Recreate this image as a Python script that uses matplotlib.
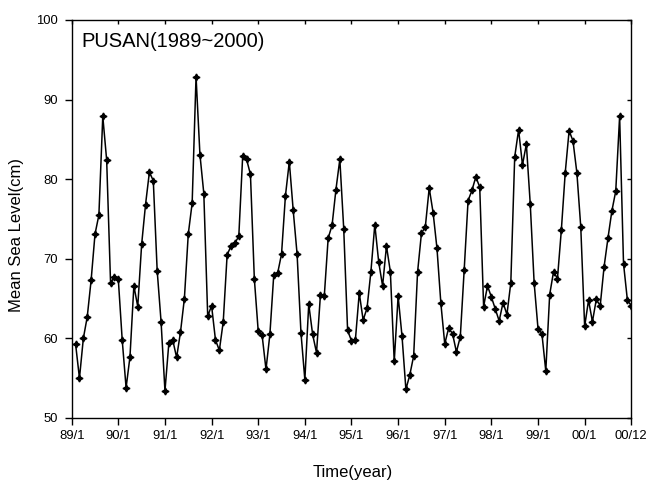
import numpy as np
import matplotlib
matplotlib.use('Agg')
import matplotlib.pyplot as plt

plt.rcParams['font.family'] = ['Liberation Sans', 'DejaVu Sans']

# Monthly mean sea level at Pusan, 1989/1 .. 2000/12 (cm)
sea_level = [
    59.3, 55.0, 60.0, 62.7, 67.3, 73.1, 75.5, 87.9, 82.4, 67.0, 67.7, 67.4,
    59.8, 53.8, 57.7, 66.6, 64.0, 71.8, 76.8, 80.9, 79.8, 68.5, 62.1, 53.4,
    59.4, 59.8, 57.6, 60.8, 65.0, 73.1, 77.0, 92.9, 83.1, 78.2, 62.8, 64.1,
    59.8, 58.5, 62.1, 70.5, 71.6, 72.0, 72.8, 82.9, 82.5, 80.6, 67.5, 60.9,
    60.4, 56.1, 60.5, 68.0, 68.2, 70.6, 77.9, 82.2, 76.1, 70.6, 60.7, 54.8,
    64.3, 60.5, 58.2, 65.4, 65.3, 72.6, 74.2, 78.7, 82.5, 73.8, 61.0, 59.7,
    59.8, 65.7, 62.3, 63.8, 68.4, 74.3, 69.6, 66.6, 71.6, 68.4, 57.1, 65.3,
    60.3, 53.6, 55.4, 57.8, 68.3, 73.2, 74.0, 78.9, 75.8, 71.3, 64.4, 59.3,
    61.3, 60.6, 58.3, 60.2, 68.6, 77.3, 78.6, 80.3, 79.0, 64.0, 66.6, 65.2,
    63.7, 62.2, 64.5, 63.0, 67.0, 82.8, 86.2, 81.8, 84.4, 76.9, 67.0, 61.2,
    60.6, 55.9, 65.5, 68.4, 67.5, 73.6, 80.8, 86.1, 84.8, 80.8, 74.0, 61.5,
    64.8, 62.1, 64.9, 64.1, 69.0, 72.6, 76.0, 78.5, 87.9, 69.4, 64.8, 64.1,
]
tick_labels = ['89/1', '90/1', '91/1', '92/1', '93/1', '94/1', '95/1',
               '96/1', '97/1', '98/1', '99/1', '00/1', '00/12']
title_text = 'PUSAN(1989~2000)'

months = np.arange(1, len(sea_level) + 1)

fig = plt.figure(figsize=(6.65, 4.84), dpi=100)
ax = fig.add_axes([0.1078, 0.1364, 0.8415, 0.8223])

ax.plot(months, sea_level, color='black', linewidth=1.1,
        marker=(4, 1, 0), markersize=5, markerfacecolor='black',
        markeredgecolor='black')

ax.set_xlim(0, 144)
ax.set_ylim(50, 100)
ax.set_xticks(np.arange(0, 145, 12))
ax.set_xticklabels(tick_labels)
ax.set_yticks(np.arange(50, 101, 10))

ax.tick_params(axis='both', direction='out', length=4.8, width=1.0,
               labelsize=9.4, color='black')
ax.tick_params(axis='x', pad=4)
ax.tick_params(axis='y', pad=5)
# small inward marks on the top and right frame
ax.tick_params(top=True, right=True, labeltop=False, labelright=False)
for t in ax.xaxis.get_major_ticks():
    t.tick2line.set_marker(3)
    t.tick2line.set_markersize(3)
for t in ax.yaxis.get_major_ticks():
    t.tick2line.set_marker(0)
    t.tick2line.set_markersize(3)

for s in ax.spines.values():
    s.set_linewidth(1.0)
    s.set_color('black')

ax.set_xlabel('Time(year)', fontsize=12)
ax.set_ylabel('Mean Sea Level(cm)', fontsize=12)
ax.xaxis.set_label_coords(0.503, -0.118)
ax.yaxis.set_label_coords(-0.085, 0.46)

ax.text(0.018, 0.932, title_text, transform=ax.transAxes,
        fontsize=14.5, ha='left', va='baseline')

fig.savefig('out.png', dpi=100)
